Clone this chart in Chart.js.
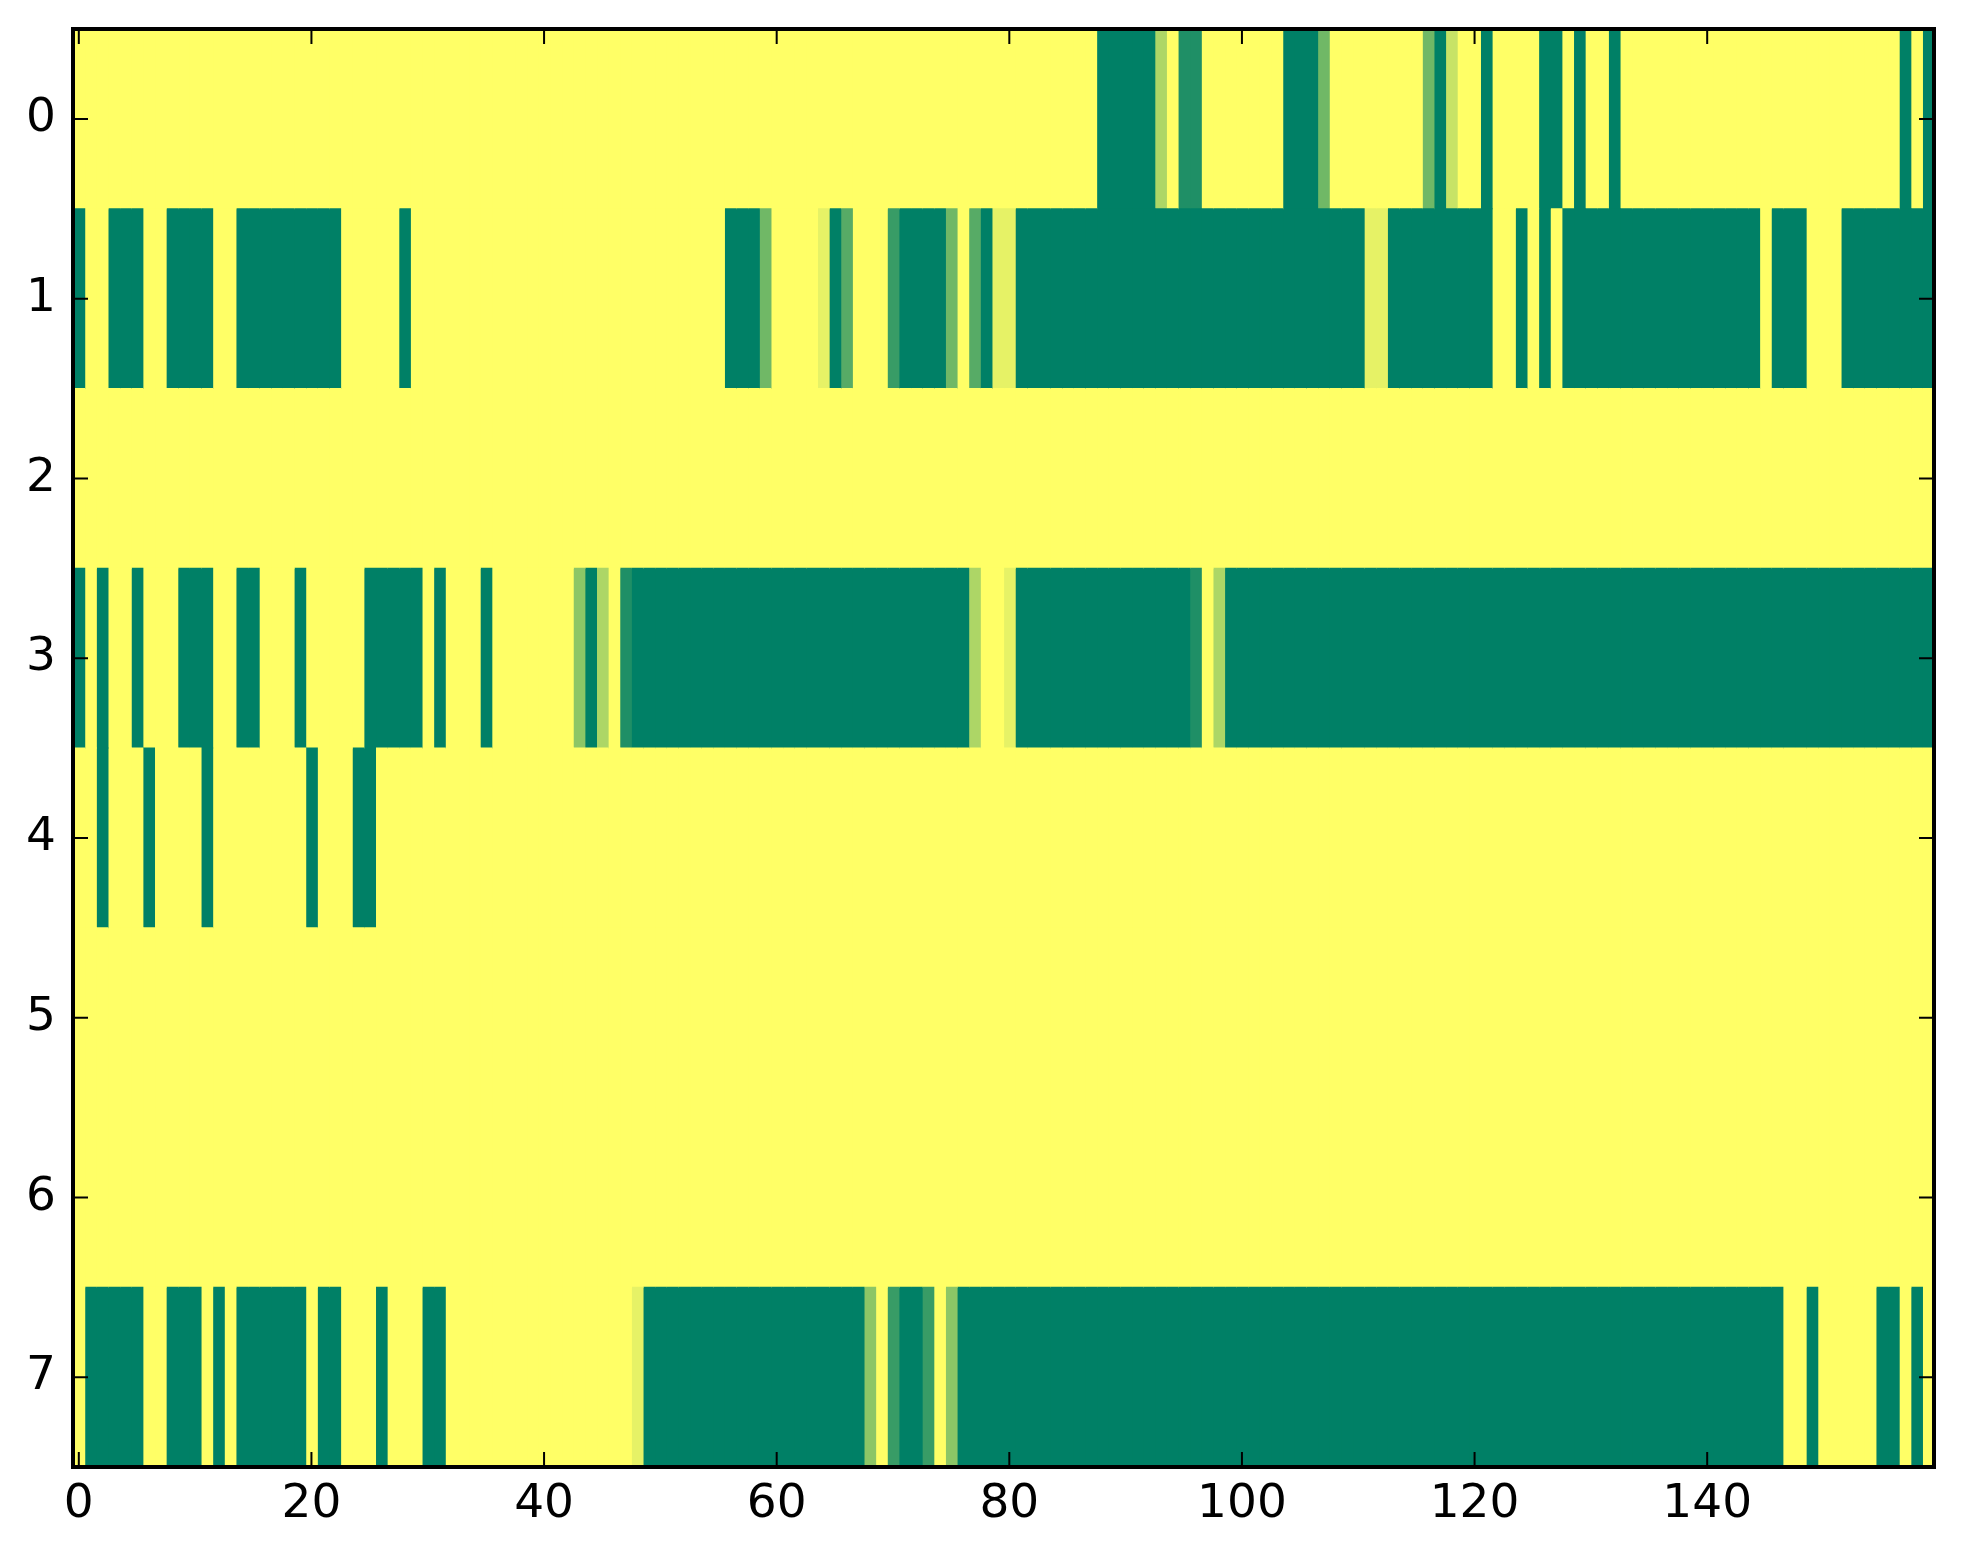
<!DOCTYPE html>
<html>
<head>
<meta charset="utf-8">
<script src="https://cdn.jsdelivr.net/npm/chart.js@4/dist/chart.umd.min.js"></script>
<style>
  html, body { margin: 0; padding: 0; background: #fff; }
  #wrap { width: 1963px; height: 1564px; }
</style>
</head>
<body>
<div id="wrap"><canvas id="heat" width="1963" height="1564"></canvas></div>
<script>
// row labels (top to bottom) and x tick values
const rowLabels = ["0", "1", "2", "3", "4", "5", "6", "7"];
const xTicks = [0, 20, 40, 60, 80, 100, 120, 140];

// one array per row, 160 columns each (0 = dark green, 1 = yellow)
const row0 = [
  1,1,1,1,1,1,1,1,1,1,1,1,1,1,1,1,1,1,1,1,
  1,1,1,1,1,1,1,1,1,1,1,1,1,1,1,1,1,1,1,1,
  1,1,1,1,1,1,1,1,1,1,1,1,1,1,1,1,1,1,1,1,
  1,1,1,1,1,1,1,1,1,1,1,1,1,1,1,1,1,1,1,1,
  1,1,1,1,1,1,1,1,0,0,0,0,0,.68,1,.12,.12,1,1,1,
  1,1,1,1,0,0,0,.44,1,1,1,1,1,1,1,1,.44,0,.78,1,
  1,0,1,1,1,1,0,0,1,0,1,1,0,1,1,1,1,1,1,1,
  1,1,1,1,1,1,1,1,1,1,1,1,1,1,1,1,1,0,1,0
];
const row1 = [
  0,1,1,0,0,0,1,1,0,0,0,0,1,1,0,0,0,0,0,0,
  0,0,0,1,1,1,1,1,0,1,1,1,1,1,1,1,1,1,1,1,
  1,1,1,1,1,1,1,1,1,1,1,1,1,1,1,1,0,0,0,.44,
  1,1,1,1,.9,0,.34,1,1,1,.22,0,0,0,0,.44,1,.34,0,.9,
  .9,0,0,0,0,0,0,0,0,0,0,0,0,0,0,0,0,0,0,0,
  0,0,0,0,0,0,0,0,0,0,0,.9,.9,0,0,0,0,0,0,0,
  0,0,1,1,0,1,0,1,0,0,0,0,0,0,0,0,0,0,0,0,
  0,0,0,0,0,1,0,0,0,1,1,1,0,0,0,0,0,0,0,0
];
const row2 = [
  1,1,1,1,1,1,1,1,1,1,1,1,1,1,1,1,1,1,1,1,
  1,1,1,1,1,1,1,1,1,1,1,1,1,1,1,1,1,1,1,1,
  1,1,1,1,1,1,1,1,1,1,1,1,1,1,1,1,1,1,1,1,
  1,1,1,1,1,1,1,1,1,1,1,1,1,1,1,1,1,1,1,1,
  1,1,1,1,1,1,1,1,1,1,1,1,1,1,1,1,1,1,1,1,
  1,1,1,1,1,1,1,1,1,1,1,1,1,1,1,1,1,1,1,1,
  1,1,1,1,1,1,1,1,1,1,1,1,1,1,1,1,1,1,1,1,
  1,1,1,1,1,1,1,1,1,1,1,1,1,1,1,1,1,1,1,1
];
const row3 = [
  0,1,0,1,1,0,1,1,1,0,0,0,1,1,0,0,1,1,1,0,
  1,1,1,1,1,0,0,0,0,0,1,0,1,1,1,0,1,1,1,1,
  1,1,1,.55,0,.68,1,.12,0,0,0,0,0,0,0,0,0,0,0,0,
  0,0,0,0,0,0,0,0,0,0,0,0,0,0,0,0,0,.68,1,1,
  .9,0,0,0,0,0,0,0,0,0,0,0,0,0,0,0,.12,1,.68,0,
  0,0,0,0,0,0,0,0,0,0,0,0,0,0,0,0,0,0,0,0,
  0,0,0,0,0,0,0,0,0,0,0,0,0,0,0,0,0,0,0,0,
  0,0,0,0,0,0,0,0,0,0,0,0,0,0,0,0,0,0,0,0
];
const row4 = [
  1,1,0,1,1,1,0,1,1,1,1,0,1,1,1,1,1,1,1,1,
  0,1,1,1,0,0,1,1,1,1,1,1,1,1,1,1,1,1,1,1,
  1,1,1,1,1,1,1,1,1,1,1,1,1,1,1,1,1,1,1,1,
  1,1,1,1,1,1,1,1,1,1,1,1,1,1,1,1,1,1,1,1,
  1,1,1,1,1,1,1,1,1,1,1,1,1,1,1,1,1,1,1,1,
  1,1,1,1,1,1,1,1,1,1,1,1,1,1,1,1,1,1,1,1,
  1,1,1,1,1,1,1,1,1,1,1,1,1,1,1,1,1,1,1,1,
  1,1,1,1,1,1,1,1,1,1,1,1,1,1,1,1,1,1,1,1
];
const row5 = [
  1,1,1,1,1,1,1,1,1,1,1,1,1,1,1,1,1,1,1,1,
  1,1,1,1,1,1,1,1,1,1,1,1,1,1,1,1,1,1,1,1,
  1,1,1,1,1,1,1,1,1,1,1,1,1,1,1,1,1,1,1,1,
  1,1,1,1,1,1,1,1,1,1,1,1,1,1,1,1,1,1,1,1,
  1,1,1,1,1,1,1,1,1,1,1,1,1,1,1,1,1,1,1,1,
  1,1,1,1,1,1,1,1,1,1,1,1,1,1,1,1,1,1,1,1,
  1,1,1,1,1,1,1,1,1,1,1,1,1,1,1,1,1,1,1,1,
  1,1,1,1,1,1,1,1,1,1,1,1,1,1,1,1,1,1,1,1
];
const row6 = [
  1,1,1,1,1,1,1,1,1,1,1,1,1,1,1,1,1,1,1,1,
  1,1,1,1,1,1,1,1,1,1,1,1,1,1,1,1,1,1,1,1,
  1,1,1,1,1,1,1,1,1,1,1,1,1,1,1,1,1,1,1,1,
  1,1,1,1,1,1,1,1,1,1,1,1,1,1,1,1,1,1,1,1,
  1,1,1,1,1,1,1,1,1,1,1,1,1,1,1,1,1,1,1,1,
  1,1,1,1,1,1,1,1,1,1,1,1,1,1,1,1,1,1,1,1,
  1,1,1,1,1,1,1,1,1,1,1,1,1,1,1,1,1,1,1,1,
  1,1,1,1,1,1,1,1,1,1,1,1,1,1,1,1,1,1,1,1
];
const row7 = [
  1,0,0,0,0,0,1,1,0,0,0,1,0,1,0,0,0,0,0,0,
  1,0,0,1,1,1,0,1,1,1,0,0,1,1,1,1,1,1,1,1,
  1,1,1,1,1,1,1,1,.9,0,0,0,0,0,0,0,0,0,0,0,
  0,0,0,0,0,0,0,0,.55,1,.22,0,0,.22,1,.55,0,0,0,0,
  0,0,0,0,0,0,0,0,0,0,0,0,0,0,0,0,0,0,0,0,
  0,0,0,0,0,0,0,0,0,0,0,0,0,0,0,0,0,0,0,0,
  0,0,0,0,0,0,0,0,0,0,0,0,0,0,0,0,0,0,0,0,
  0,0,0,0,0,0,0,1,1,0,1,1,1,1,1,0,0,1,0,1
];

const rows = [row0, row1, row2, row3, row4, row5, row6, row7];
const nCols = row0.length;

// matplotlib "summer" colormap
function summer(v) {
  const r = Math.round(255 * v);
  const g = Math.round(255 * (0.5 + v / 2));
  return "rgb(" + r + "," + g + ",102)";
}

// one floating-bar dataset per column, one bar per row
const datasets = [];
for (let j = 0; j < nCols; j++) {
  datasets.push({
    data: rows.map(() => [j - 0.5, j + 0.5]),
    backgroundColor: rows.map(r => summer(r[j])),
    borderWidth: 0,
    barPercentage: 1,
    categoryPercentage: 1,
    grouped: false,
    inflateAmount: 0.6
  });
}

const tickFont = { family: "DejaVu Sans", size: 47 };

// frame and inward tick marks like matplotlib's classic style
const frameTicks = {
  id: "frameTicks",
  afterDraw(chart) {
    const { ctx, chartArea: a, scales } = chart;
    const len = 15;
    ctx.save();
    ctx.strokeStyle = "#000";
    ctx.lineWidth = 2;
    ctx.beginPath();
    xTicks.forEach(v => {
      const px = scales.x.getPixelForValue(v);
      ctx.moveTo(px, a.bottom); ctx.lineTo(px, a.bottom - len);
      ctx.moveTo(px, a.top); ctx.lineTo(px, a.top + len);
    });
    rowLabels.forEach((l, i) => {
      const py = scales.y.getPixelForValue(i);
      ctx.moveTo(a.left, py); ctx.lineTo(a.left + len, py);
      ctx.moveTo(a.right, py); ctx.lineTo(a.right - len, py);
    });
    ctx.stroke();
    ctx.lineWidth = 4;
    ctx.strokeRect(a.left, a.top, a.right - a.left, a.bottom - a.top);
    ctx.restore();
  }
};

new Chart(document.getElementById("heat"), {
  type: "bar",
  data: { labels: rowLabels, datasets: datasets },
  options: {
    indexAxis: "y",
    responsive: false,
    animation: false,
    devicePixelRatio: 1,
    layout: { padding: { left: 0, right: 29, top: 29, bottom: 0 } },
    plugins: { legend: { display: false }, tooltip: { enabled: false } },
    scales: {
      x: {
        type: "linear",
        position: "bottom",
        min: -0.5,
        max: nCols - 0.5,
        grid: { display: false, drawTicks: false },
        border: { display: false },
        afterBuildTicks: s => { s.ticks = xTicks.map(v => ({ value: v })); },
        afterFit: s => { s.height = 97; s.paddingLeft = 0; s.paddingRight = 0; },
        ticks: { font: tickFont, color: "#000", padding: 10, maxRotation: 0 }
      },
      y: {
        type: "category",
        offset: true,
        grid: { display: false, drawTicks: false },
        border: { display: false },
        afterFit: s => { s.width = 73; s.paddingTop = 0; s.paddingBottom = 0; },
        ticks: { font: tickFont, color: "#000", padding: 17 }
      }
    }
  },
  plugins: [frameTicks]
});
</script>
</body>
</html>
